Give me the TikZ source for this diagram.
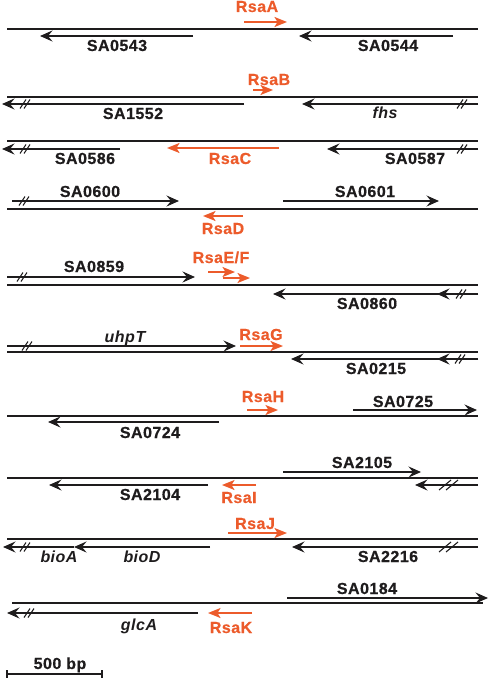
\documentclass[tikz,border=0pt]{standalone}
\usepackage{fontspec}
\setmainfont[LetterSpace=3,BoldFeatures={FakeBold=0.6}]{Liberation Sans}
\usetikzlibrary{arrows.meta}
\definecolor{rsa}{RGB}{236,91,43}
\definecolor{ink}{RGB}{30,28,29}
\newcommand\brkmark[2]{%
  \draw[brkline] ({#1-5},{#2+4.5}) -- ({#1+1},{#2-4.5});
  \draw[brkline] ({#1-1},{#2+4.5}) -- ({#1+5},{#2-4.5});}
\begin{document}
\begin{tikzpicture}[x=1pt,y=-1pt,
  genome/.style={ink,line width=1.5pt},
  gene/.style={ink,line width=1.3pt,-{Stealth[length=12.5pt,width=11pt,inset=4.5pt]}},
  srna/.style={rsa,line width=1.6pt,-{Stealth[length=12.5pt,width=10pt,inset=3pt]}},
  brkline/.style={ink,line width=1.1pt},
  lbl/.style={ink,anchor=base,inner sep=0pt,font=\fontsize{16}{18}\selectfont\bfseries},
  rlbl/.style={lbl,rsa},
  ilbl/.style={lbl,font=\fontsize{16}{18}\selectfont\bfseries\itshape}]
\useasboundingbox (0,0) rectangle (488,679);
% Row A
\draw[genome] (7,29) -- (478,29);
\draw[gene] (193,36) -- (40,36);
\draw[gene] (453,36) -- (299,36);
\draw[srna] (244,22) -- (287,22);
\node[rlbl] (rsaA) at (257,12) {RsaA};
\node[lbl] (sa0543) at (117,51) {SA0543};
\node[lbl] (sa0544) at (388,51) {SA0544};
% Row B
\draw[genome] (7,97) -- (478,97);
\draw[gene] (244,104) -- (2,104);
\draw[gene] (478,104) -- (302,104);
\brkmark{25}{104}\brkmark{462}{104}
\draw[srna] (253,90) -- (273,90);
\node[rlbl] (rsaB) at (269,85) {RsaB};
\node[lbl] (sa1552) at (133,119) {SA1552};
\node[ilbl] (fhs) at (385,119) {fhs};
% Row C
\draw[genome] (7,141) -- (478,141);
\draw[gene] (120,149) -- (2,149);
\draw[gene] (478,149) -- (327,149);
\brkmark{25}{149}\brkmark{462}{149}
\draw[srna] (279,148) -- (167,148);
\node[lbl] (sa0586) at (85,164) {SA0586};
\node[rlbl] (rsaC) at (230,164) {RsaC};
\node[lbl] (sa0587) at (415,164) {SA0587};
% Row D
\draw[genome] (7,209) -- (478,209);
\draw[gene] (12,201) -- (179,201);
\draw[gene] (283,201) -- (439,201);
\brkmark{24}{201}
\draw[srna] (243,216) -- (203,216);
\node[lbl] (sa0600) at (90,197) {SA0600};
\node[lbl] (sa0601) at (365,197) {SA0601};
\node[rlbl] (rsaD) at (223,234) {RsaD};
% Row E
\draw[genome] (7,285) -- (478,285);
\draw[gene] (7,277) -- (195,277);
\draw[gene] (478,294) -- (273,294);
\draw[gene] (478,294) -- (437,294);
\brkmark{22}{277}\brkmark{461}{294}
\draw[srna] (208,272) -- (235,272);
\draw[srna] (223,278) -- (250,278);
\node[rlbl] (rsaEF) at (221,263) {RsaE/F};
\node[lbl] (sa0859) at (94,272) {SA0859};
\node[lbl] (sa0860) at (367,309) {SA0860};
% Row G
\draw[genome] (7,352) -- (478,352);
\draw[gene] (7,346) -- (236,346);
\draw[gene] (478,359) -- (291,359);
\draw[gene] (478,359) -- (437,359);
\brkmark{27}{346}\brkmark{460}{359}
\draw[srna] (240,346) -- (283,346);
\node[ilbl] (uhpT) at (125,342) {uhpT};
\node[rlbl] (rsaG) at (261,340) {RsaG};
\node[lbl] (sa0215) at (376,374) {SA0215};
% Row H
\draw[genome] (7,416) -- (478,416);
\draw[gene] (219,422) -- (48,422);
\draw[gene] (353,410) -- (477,410);
\draw[srna] (247,410) -- (278,410);
\node[rlbl] (rsaH) at (263,402) {RsaH};
\node[lbl] (sa0725) at (403,407) {SA0725};
\node[lbl] (sa0724) at (150,438) {SA0724};
% Row I
\draw[genome] (7,478) -- (478,478);
\draw[gene] (283,472) -- (421,472);
\draw[gene] (208,485) -- (49,485);
\draw[gene] (478,485) -- (415,485);
\draw[brkline] (439,490) -- (451,480);
\draw[brkline] (446,490) -- (458,480);
\draw[srna] (256,485) -- (222,485);
\node[lbl] (sa2105) at (362,468) {SA2105};
\node[lbl] (sa2104) at (150,500) {SA2104};
\node[rlbl] (rsaI) at (239,503) {RsaI};
% Row J
\draw[genome] (7,539) -- (478,539);
\draw[gene] (210,547) -- (74,547);
\draw[gene] (74,547) -- (3,547);
\draw[gene] (478,547) -- (292,547);
\brkmark{25}{547}
\draw[brkline] (439,552) -- (451,542);
\draw[brkline] (446,552) -- (458,542);
\draw[srna] (228,533) -- (287,533);
\node[rlbl] (rsaJ) at (255,529) {RsaJ};
\node[ilbl] (bioA) at (59,562) {bioA};
\node[ilbl] (bioD) at (142,562) {bioD};
\node[lbl] (sa2216) at (388,562) {SA2216};
% Row K
\draw[genome] (12,603) -- (483,603);
\draw[gene] (287,598) -- (488,598);
\draw[gene] (198,613) -- (7,613);
\brkmark{29}{613}
\draw[srna] (252,613) -- (208,613);
\node[lbl] (sa0184) at (367,594) {SA0184};
\node[ilbl] (glcA) at (139,630) {glcA};
\node[rlbl] (rsaK) at (231,633) {RsaK};
% Scale bar
\coordinate (sbL) at (7,674);
\coordinate (sbR) at (102,674);
\draw[ink,line width=1.1pt] (sbL) -- (sbR);
\draw[ink,line width=1.1pt] (7,670) -- (7,678);
\draw[ink,line width=1.1pt] (102,670) -- (102,678);
\node[lbl] (scale) at (60,669) {500 bp};
\end{tikzpicture}
\end{document}
